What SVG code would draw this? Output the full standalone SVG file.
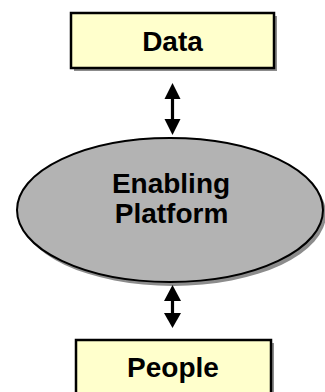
<svg xmlns="http://www.w3.org/2000/svg" width="325" height="392" viewBox="0 0 325 392">
  <style>
    .box { fill: #FFFFCC; stroke: #000; stroke-width: 2.5; }
    .shadow { fill: #8c8c8c; }
    .oval { fill: #B3B3B3; stroke: #000; stroke-width: 2; }
    .label { font-family: "Liberation Sans", Arial, sans-serif; font-weight: bold; font-size: 28px; fill: #000; text-anchor: middle; }
    .link { stroke: #000; stroke-width: 3.2; fill: none; }
    .head { fill: #000; }
  </style>
  <rect width="325" height="392" fill="#fff"/>

  <g id="data">
    <rect class="shadow" x="74" y="16" width="203" height="55"/>
    <rect class="box" x="71" y="13" width="203" height="55"/>
    <text class="label" x="172.5" y="51">Data</text>
  </g>

  <g id="platform">
    <ellipse class="shadow" cx="173" cy="214" rx="153" ry="72"/>
    <ellipse class="oval" cx="170" cy="210" rx="153" ry="72"/>
    <text class="label" x="171" y="193">Enabling</text>
    <text class="label" x="171.5" y="223">Platform</text>
  </g>

  <g id="people">
    <rect class="shadow" x="79" y="343" width="195" height="60"/>
    <rect class="box" x="76" y="340" width="195" height="60"/>
    <text class="label" x="173" y="377">People</text>
  </g>

  <g id="connectors">
    <!-- Data <-> Platform -->
    <line class="link" x1="172.5" y1="96" x2="172.5" y2="122"/>
    <polygon class="head" points="172.5,83 180.5,99 164.5,99"/>
    <polygon class="head" points="172.5,135 180.5,119 164.5,119"/>
    <!-- Platform <-> People -->
    <line class="link" x1="172.5" y1="298" x2="172.5" y2="315"/>
    <polygon class="head" points="172.5,285 181,301 164,301"/>
    <polygon class="head" points="172.5,328 181,313 164,313"/>
  </g>
</svg>
